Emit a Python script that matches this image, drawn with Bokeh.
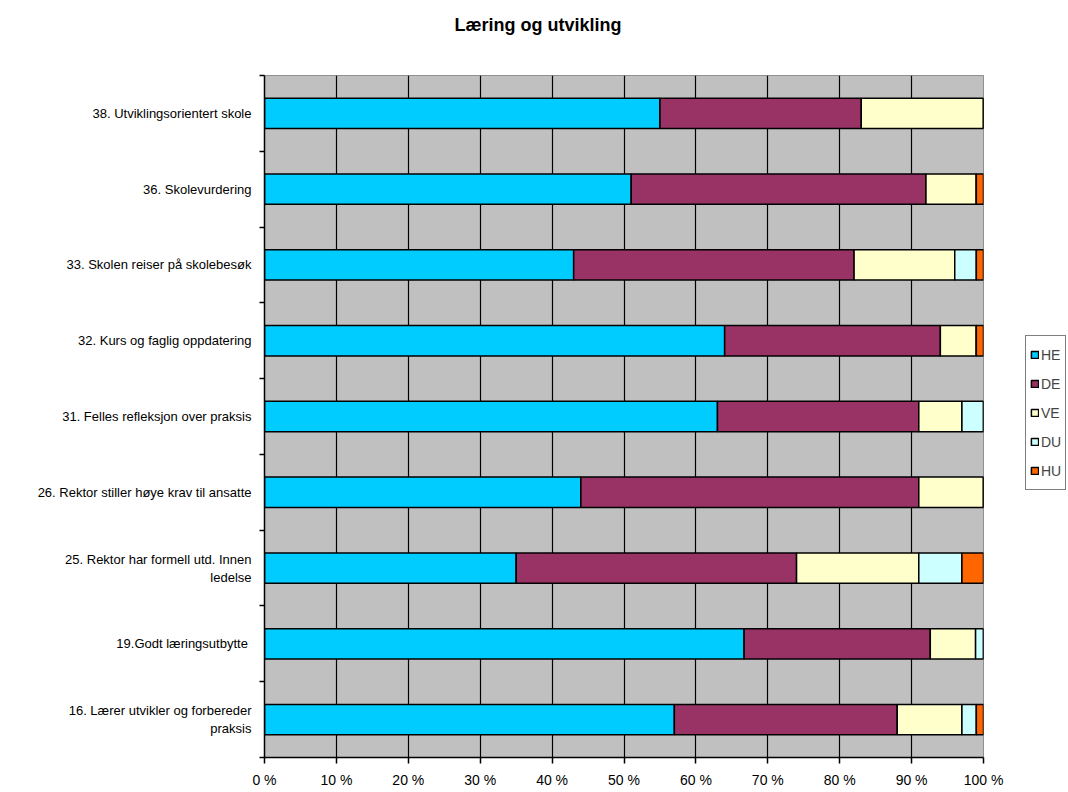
from bokeh.plotting import figure
from bokeh.models import ColumnDataSource, FixedTicker, Legend, Range1d, Title
from bokeh.embed import file_html
from bokeh.resources import INLINE

# Survey items, listed bottom to top
items = [
    "16. Lærer utvikler og forbereder\npraksis",
    "19.Godt læringsutbytte ",
    "25. Rektor har formell utd. Innen\nledelse",
    "26. Rektor stiller høye krav til ansatte",
    "31. Felles refleksjon over praksis",
    "32. Kurs og faglig oppdatering",
    "33. Skolen reiser på skolebesøk",
    "36. Skolevurdering",
    "38. Utviklingsorientert skole",
]
# Answer shares in percent
HE = [57, 66.7, 35, 44, 63, 64, 43, 51, 55]
DE = [31, 25.9, 39, 47, 28, 30, 39, 41, 28]
VE = [9, 6.3, 17, 9, 6, 5, 14, 7, 17]
DU = [2, 1.1, 6, 0, 3, 0, 3, 0, 0]
HU = [1, 0, 3, 0, 0, 1, 1, 1, 0]

series = ["HE", "DE", "VE", "DU", "HU"]
colors = ["#00CCFF", "#993366", "#FFFFCC", "#CCFFFF", "#FF6600"]
x_ticks = list(range(0, 101, 10))
x_tick_labels = {t: f"{t} %" for t in x_ticks}

FONT = "Liberation Sans"

centers = [i + 0.5 for i in range(len(items))]
src = ColumnDataSource(dict(y=centers, HE=HE, DE=DE, VE=VE, DU=DU, HU=HU))

p = figure(frame_width=719, frame_height=682, output_backend="svg",
           toolbar_location=None,
           x_range=Range1d(0, 100), y_range=Range1d(0, len(items)),
           min_border_left=264, min_border_right=85, min_border_top=75,
           min_border_bottom=35)
p.background_fill_color = "#C0C0C0"
p.border_fill_color = "white"
p.outline_line_color = "#909090"

renderers = p.hbar_stack(series, y="y", height=0.4, color=colors, source=src,
                         line_color="black", line_width=1.5)

# Chart title
p.title.text = "Læring og utvikling"
p.title.text_font = FONT
p.title.text_font_size = "18px"
p.title.text_font_style = "bold"
p.title.text_color = "black"
p.title.align = "left"
p.title.offset = 190
p.title.standoff = 0

# Blank spacer between the title and the frame
spacer = Title(text=" ", text_font_size="30px", standoff=6)
p.add_layout(spacer, "above")

# Axes
xa = p.xaxis[0]
xa.ticker = FixedTicker(ticks=x_ticks)
xa.major_label_overrides = x_tick_labels
xa.major_label_text_font = FONT
xa.major_label_text_font_size = "14px"
xa.major_label_text_color = "black"
xa.major_tick_out = 6
xa.major_tick_in = 0
xa.minor_tick_out = 0
xa.axis_line_color = "black"
xa.axis_line_width = 1.5
xa.major_tick_line_width = 1.5
xa.major_label_standoff = 8

ya = p.yaxis[0]
ya.ticker = FixedTicker(ticks=centers, minor_ticks=list(range(len(items) + 1)))
ya.major_label_overrides = {c: lab for c, lab in zip(centers, items)}
ya.major_label_text_font = FONT
ya.major_label_text_font_size = "13px"
ya.major_label_text_color = "black"
ya.major_tick_out = 0
ya.major_tick_in = 0
ya.minor_tick_out = 5
ya.minor_tick_in = 0
ya.minor_tick_line_color = "black"
ya.minor_tick_line_width = 1.5
ya.axis_line_color = "black"
ya.axis_line_width = 1.5
ya.major_label_standoff = 8

p.xgrid.ticker = FixedTicker(ticks=x_ticks)
p.xgrid.grid_line_color = "black"
p.xgrid.grid_line_width = 1.2
p.ygrid.grid_line_color = None

legend = Legend(items=[(s, [r]) for s, r in zip(series, renderers)],
                location=(42, 267))
legend.label_text_font = FONT
legend.label_text_font_size = "14px"
legend.glyph_width = 9
legend.glyph_height = 9
legend.spacing = 0
legend.padding = 4
legend.margin = 0
legend.label_standoff = 2
legend.label_height = 29
legend.border_line_color = "black"
legend.border_line_width = 1
legend.background_fill_color = "white"
legend.background_fill_alpha = 1
p.add_layout(legend, "right")

open("out.html", "w").write(file_html(p, INLINE))
